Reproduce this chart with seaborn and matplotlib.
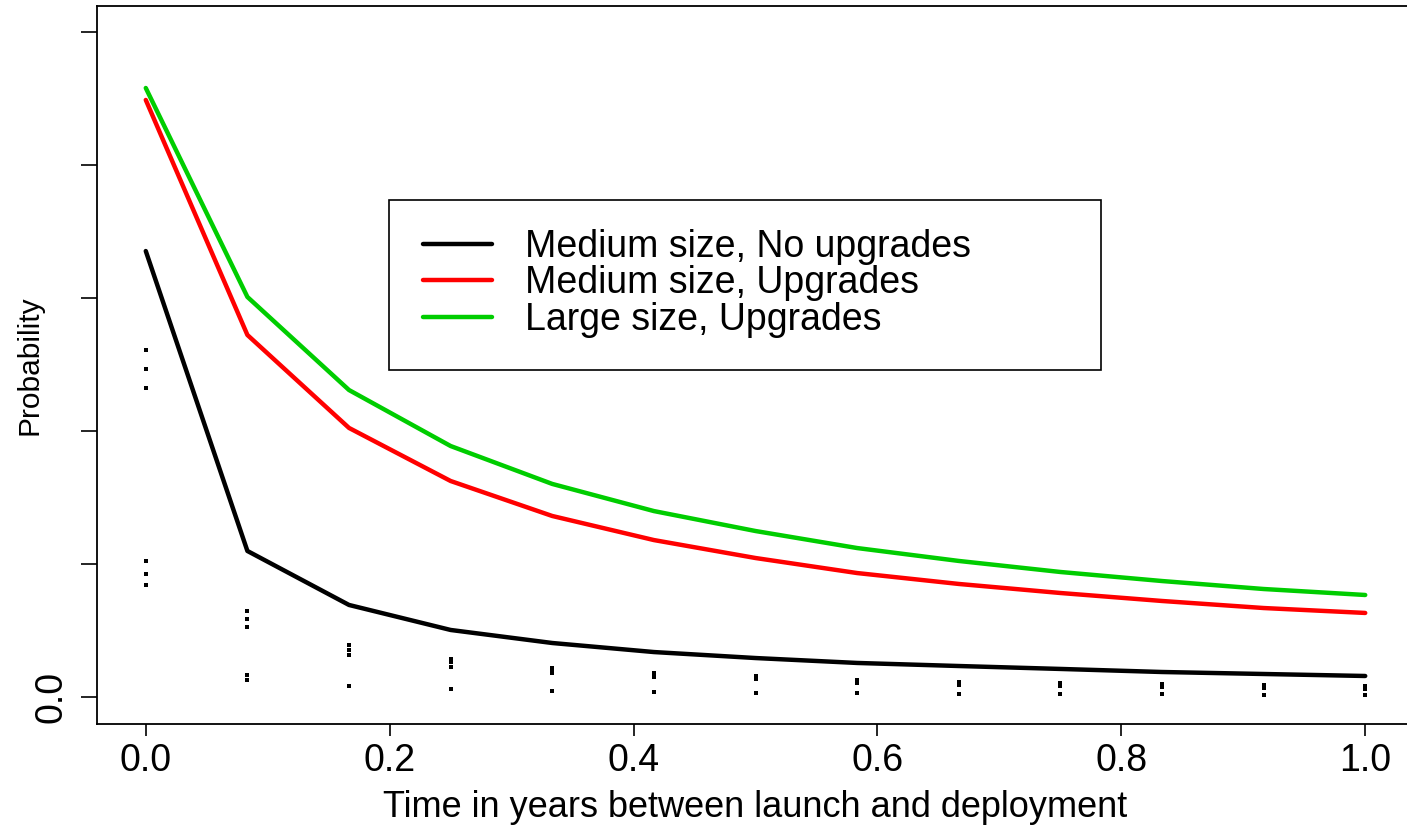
import matplotlib
matplotlib.use("Agg")
import matplotlib.pyplot as plt
import seaborn as sns
import numpy as np
import pandas as pd
from matplotlib.patches import Rectangle

# ---- data ----
months = list(range(13))
time_years = [m / 12 for m in months]

medium_no_upgrades = [0.3353, 0.1098, 0.0692, 0.0504, 0.0406, 0.0338, 0.0293,
                      0.0256, 0.0233, 0.0211, 0.0188, 0.0173, 0.0158]
medium_upgrades = [0.4489, 0.2722, 0.2023, 0.1624, 0.1361, 0.1180, 0.1045,
                   0.0932, 0.0850, 0.0782, 0.0722, 0.0669, 0.0632]
large_upgrades = [0.4579, 0.3008, 0.2308, 0.1887, 0.1602, 0.1398, 0.1248,
                  0.1120, 0.1023, 0.0940, 0.0872, 0.0812, 0.0767]

series_names = ["Medium size, No upgrades", "Medium size, Upgrades", "Large size, Upgrades"]
series_colors = ["#000000", "#FF0000", "#00CD00"]

# small dot marks (time index, value)
dot_index = [0, 0, 0, 0, 0, 0,
             1, 1, 1, 1, 1,
             2, 2, 2, 2,
             3, 3, 3, 3,
             4, 4, 4, 4,
             5, 5, 5,
             6, 6, 6,
             7, 7, 7,
             8, 8, 8,
             9, 9, 9,
             10, 10, 10,
             11, 11, 11,
             12, 12, 12]
dot_value = [0.2609, 0.2466, 0.2323, 0.1023, 0.0925, 0.0842,
             0.0647, 0.0586, 0.0526, 0.0165, 0.0128,
             0.0391, 0.0353, 0.0316, 0.0083,
             0.0286, 0.0263, 0.0226, 0.0060,
             0.0218, 0.0195, 0.0180, 0.0045,
             0.0180, 0.0150, 0.0038,
             0.0158, 0.0135, 0.0030,
             0.0128, 0.0105, 0.0030,
             0.0113, 0.0090, 0.0023,
             0.0105, 0.0083, 0.0023,
             0.0098, 0.0075, 0.0023,
             0.0090, 0.0068, 0.0015,
             0.0083, 0.0060, 0.0015]

y_ticks = [0.0, 0.1, 0.2, 0.3, 0.4, 0.5]
y_ticklabels = ["0.0", "", "", "", "", ""]
x_ticks = [0.0, 0.2, 0.4, 0.6, 0.8, 1.0]
x_ticklabels = ["0.0", "0.2", "0.4", "0.6", "0.8", "1.0"]

# ---- build frame ----
rows = []
for name, vals in zip(series_names, [medium_no_upgrades, medium_upgrades, large_upgrades]):
    for t, v in zip(time_years, vals):
        rows.append({"time": t, "prob": v, "series": name})
df = pd.DataFrame(rows)
dots = pd.DataFrame({"time": [time_years[i] for i in dot_index], "prob": dot_value})

sns.set_style("white")
plt.rcParams["font.family"] = ["Liberation Sans", "DejaVu Sans"]
plt.rcParams["text.color"] = "black"
plt.rcParams["axes.labelcolor"] = "black"
plt.rcParams["xtick.color"] = "black"
plt.rcParams["ytick.color"] = "black"

W, H = 1407, 825
fig = plt.figure(figsize=(W / 100, H / 100), dpi=100)
L, R, B, T = 97, 1414, 724, 6
ax = fig.add_axes([L / W, (H - B) / H, (R - L) / W, (B - T) / H])

LW = 3.2
sns.lineplot(data=df, x="time", y="prob", hue="series", hue_order=series_names,
             palette=series_colors, linewidth=LW, ax=ax, legend=False,
             solid_capstyle="round", solid_joinstyle="round")
sns.scatterplot(data=dots, x="time", y="prob", marker="s", s=5, color="black",
                linewidth=0, ax=ax, legend=False)

ax.set_xlim(-0.04, 1.04)
ax.set_ylim((697 - 724) / 1330, (697 - 6) / 1330)

ax.set_xticks(x_ticks)
ax.set_xticklabels(x_ticklabels, fontsize=27)
ax.set_yticks(y_ticks)
ax.set_yticklabels(y_ticklabels, fontsize=27, rotation=90, va="center")
ax.tick_params(axis="x", direction="out", length=8.6, width=1.2, pad=5)
ax.tick_params(axis="y", direction="out", length=11.5, width=1.2, pad=8)
ax.xaxis.set_ticks_position("bottom")
ax.yaxis.set_ticks_position("left")

for sp in ax.spines.values():
    sp.set_color("black")
    sp.set_linewidth(1.3)

ax.set_xlabel("Time in years between launch and deployment", fontsize=26, labelpad=8)
ax.set_ylabel("Probability", fontsize=21.5, va="center")
ax.yaxis.set_label_coords((30 - L) / (R - L), (B - 365) / (B - T))

# legend box
box = Rectangle(((389 - L) / (R - L), (B - 370) / (B - T)),
                (1101 - 389) / (R - L), (370 - 200) / (B - T),
                transform=ax.transAxes, facecolor="white", edgecolor="black",
                linewidth=1.2, zorder=5)
ax.add_patch(box)

handles = [plt.Line2D([], [], color=c, linewidth=LW, solid_capstyle="round") for c in series_colors]
leg = ax.legend(handles, series_names, loc="upper left",
                bbox_to_anchor=((423 - L) / (R - L), (B - 229) / (B - T)),
                frameon=False, fontsize=27, handlelength=1.84, handletextpad=0.88,
                labelspacing=0.01, borderpad=0, borderaxespad=0)
leg.set_zorder(6)

fig.savefig("out.png", dpi=100, facecolor="white")
